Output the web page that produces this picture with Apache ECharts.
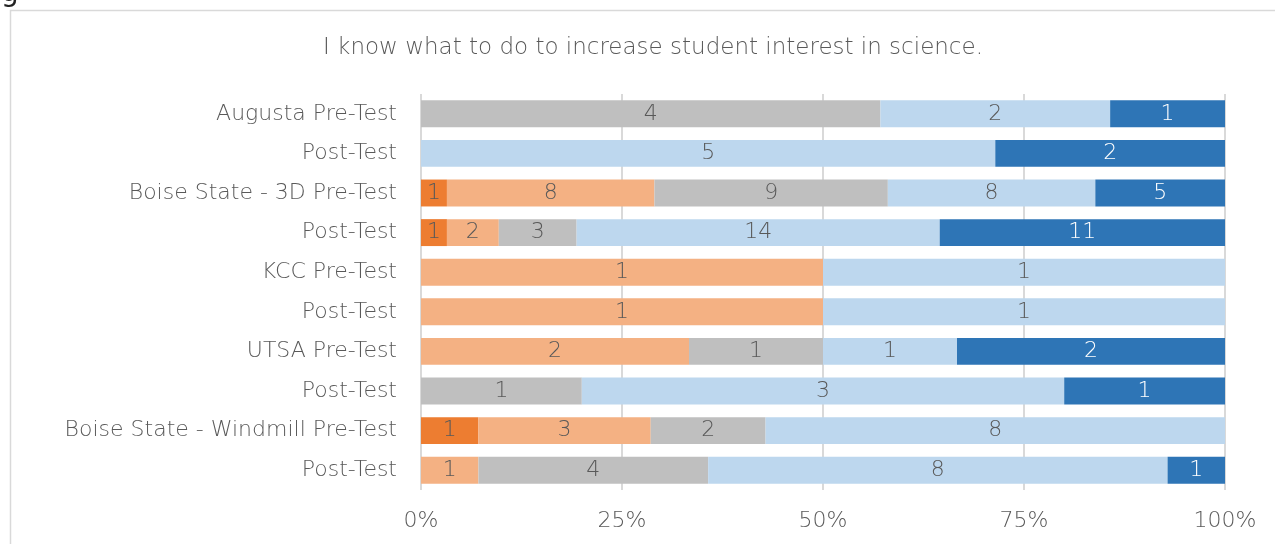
<!DOCTYPE html>
<html>
<head>
<meta charset="utf-8">
<script src="https://cdn.jsdelivr.net/npm/echarts@6/dist/echarts.min.js"></script>
<style>
  html, body { margin: 0; padding: 0; background: #fff; }
  #chart { width: 1275px; height: 544px; }
</style>
</head>
<body>
<div id="chart"></div>
<script>
// rows, top to bottom
const categories = [
  'Augusta Pre-Test', 'Post-Test',
  'Boise State - 3D Pre-Test', 'Post-Test',
  'KCC Pre-Test', 'Post-Test',
  'UTSA Pre-Test', 'Post-Test',
  'Boise State - Windmill Pre-Test', 'Post-Test'
];

// response counts per row
const stronglyDisagree = [0, 0, 1, 1, 0, 0, 0, 0, 1, 0];
const disagree         = [0, 0, 8, 2, 1, 1, 2, 0, 3, 1];
const neutral          = [4, 0, 9, 3, 0, 0, 1, 1, 2, 4];
const agree            = [2, 5, 8, 14, 1, 1, 1, 3, 8, 8];
const stronglyAgree    = [1, 2, 5, 11, 0, 0, 2, 1, 0, 1];

const xTicks = [0, 25, 50, 75, 100];

const groups = [
  { name: 'Strongly Disagree', counts: stronglyDisagree, color: '#ED7D31', text: '#595959' },
  { name: 'Disagree', counts: disagree, color: '#F4B183', text: '#595959' },
  { name: 'Neutral', counts: neutral, color: '#BFBFBF', text: '#595959' },
  { name: 'Agree', counts: agree, color: '#BDD7EE', text: '#595959' },
  { name: 'Strongly Agree', counts: stronglyAgree, color: '#2E75B6', text: '#ffffff' }
];

const totals = categories.map((c, i) => groups.reduce((s, g) => s + g.counts[i], 0));

const font = '"DejaVu Sans", "Open Sans", sans-serif';

const chart = echarts.init(document.getElementById('chart'));

chart.setOption({
  animation: false,
  backgroundColor: '#fff',
  textStyle: { fontFamily: font },
  graphic: [
    {
      type: 'rect',
      shape: { x: 10.5, y: 10.5, width: 2000, height: 1000 },
      style: { fill: 'none', stroke: '#D9D9D9', lineWidth: 1.5 }
    },
    {
      type: 'text',
      left: 1, top: -20,
      style: { text: 'g', fontSize: 28, fill: '#222', fontFamily: font }
    }
  ],
  title: {
    text: 'I know what to do to increase student interest in science.',
    left: 648, top: 32, textAlign: 'center',
    textStyle: { fontFamily: font, fontWeight: 200, fontSize: 23, color: '#595959' }
  },
  grid: { left: 421, right: 50, top: 94, bottom: 54 },
  xAxis: {
    type: 'value', min: 0, max: 100, interval: 25,
    axisLine: { show: false },
    axisTick: { show: false },
    splitLine: { lineStyle: { color: '#D9D9D9', width: 2 } },
    axisLabel: {
      margin: 20, fontFamily: font, fontWeight: 200, fontSize: 22, color: '#595959',
      formatter: v => xTicks.includes(v) ? v + '%' : ''
    }
  },
  yAxis: {
    type: 'category', inverse: true, data: categories,
    axisLine: { show: false },
    axisTick: { show: false },
    axisLabel: { margin: 24, fontFamily: font, fontWeight: 200, fontSize: 22, color: '#595959' }
  },
  series: groups.map(g => ({
    name: g.name,
    type: 'bar',
    stack: 'all',
    barWidth: '68%',
    itemStyle: { color: g.color },
    label: {
      show: true, position: 'inside',
      fontFamily: font, fontWeight: 200, fontSize: 22, color: g.text,
      formatter: p => p.data.count ? String(p.data.count) : ''
    },
    data: g.counts.map((c, i) => ({ value: c / totals[i] * 100, count: c }))
  }))
});
</script>
</body>
</html>
